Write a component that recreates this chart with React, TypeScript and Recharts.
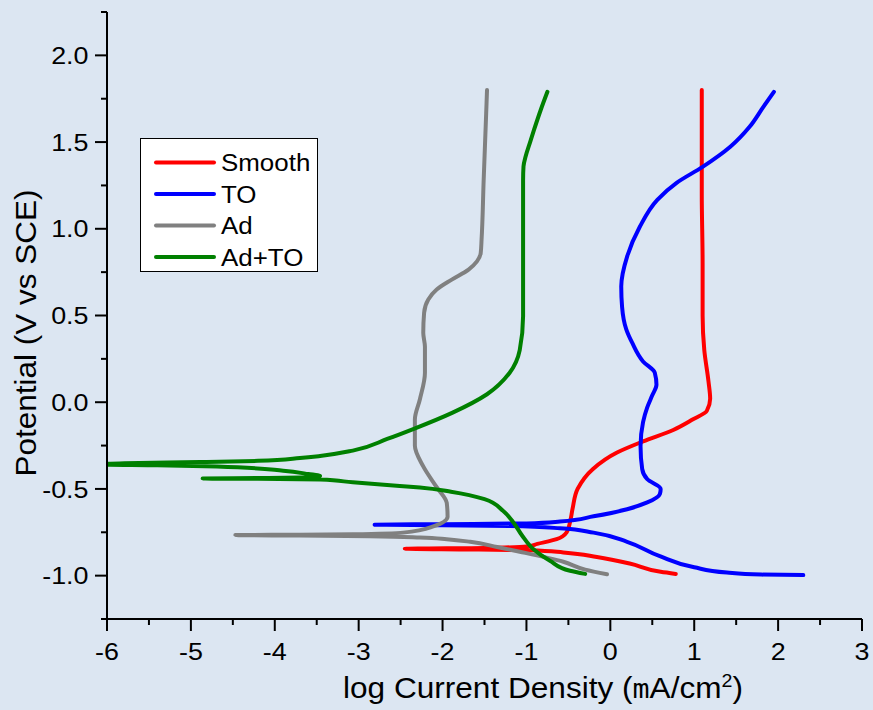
import { LineChart, Line, XAxis, YAxis } from 'recharts'

const SERIES_NAMES = ['Smooth', 'TO', 'Ad', 'Ad+TO']
const SERIES_COLORS = ['#FF0000', '#0000FF', '#808080', '#008000']

// log current density in order of rising potential
const smoothLogI = [0.78, 0.6, 0.23, -0.16, -0.56, -0.96, -1.67, -2.45, -1.5, -1.0, -0.87, -0.64, -0.52, -0.48, -0.45, -0.39, -0.21, 0.08, 0.39, 0.75, 0.98, 1.15, 1.19, 1.17, 1.12, 1.1, 1.1, 1.09, 1.09, 1.09]
const smoothE = [-0.99, -0.978, -0.93, -0.893, -0.866, -0.854, -0.849, -0.845, -0.84, -0.832, -0.817, -0.79, -0.75, -0.69, -0.614, -0.5, -0.386, -0.29, -0.226, -0.16, -0.1, -0.05, 0.02, 0.12, 0.3, 0.5, 0.8, 1.2, 1.5, 1.8]

const toLogI = [2.3, 1.8, 1.39, 1.0, 0.59, 0.2, -0.2, -0.6, -1.2, -2.0, -2.81, -2.0, -1.0, -0.6, -0.2, 0.2, 0.44, 0.59, 0.6, 0.44, 0.38, 0.36, 0.39, 0.44, 0.5, 0.55, 0.53, 0.39, 0.26, 0.19, 0.14, 0.13, 0.2, 0.35, 0.56, 0.79, 1.1, 1.43, 1.66, 1.82, 1.95]
const toE = [-0.997, -0.994, -0.982, -0.952, -0.888, -0.805, -0.752, -0.727, -0.714, -0.709, -0.706, -0.703, -0.699, -0.688, -0.658, -0.617, -0.578, -0.53, -0.5, -0.444, -0.386, -0.254, -0.115, -0.03, 0.04, 0.1, 0.17, 0.235, 0.343, 0.42, 0.55, 0.667, 0.84, 1.01, 1.167, 1.265, 1.357, 1.473, 1.588, 1.7, 1.79]

const adLogI = [-0.04, -0.3, -0.56, -1.08, -1.35, -1.67, -1.95, -2.27, -2.87, -3.7, -4.47, -3.7, -3.07, -2.47, -2.11, -1.94, -1.95, -2.07, -2.23, -2.33, -2.33, -2.27, -2.21, -2.21, -2.23, -2.22, -2.17, -2.07, -1.89, -1.69, -1.59, -1.545, -1.535, -1.51, -1.48, -1.47]
const adE = [-0.992, -0.965, -0.92, -0.862, -0.835, -0.805, -0.79, -0.78, -0.773, -0.769, -0.766, -0.764, -0.761, -0.752, -0.716, -0.66, -0.58, -0.49, -0.37, -0.25, -0.1, 0.017, 0.17, 0.32, 0.4, 0.515, 0.592, 0.65, 0.707, 0.765, 0.812, 0.861, 0.937, 1.28, 1.666, 1.8]

const adToLogI = [-0.3, -0.48, -0.72, -0.92, -1.05, -1.16, -1.28, -1.5, -1.9, -2.27, -2.51, -3.07, -3.46, -4.2, -4.86, -4.2, -3.6, -3.46, -3.6, -3.9, -4.69, -5.4, -6.1, -5.79, -4.89, -4.2, -3.7, -3.46, -3.07, -2.66, -2.35, -1.88, -1.47, -1.2, -1.08, -1.04, -1.04, -1.04, -1.035, -1.01, -0.96, -0.91, -0.83, -0.75]
const adToE = [-0.99, -0.972, -0.914, -0.846, -0.77, -0.69, -0.626, -0.559, -0.516, -0.492, -0.483, -0.462, -0.446, -0.442, -0.44, -0.437, -0.433, -0.425, -0.414, -0.395, -0.37, -0.364, -0.36, -0.352, -0.345, -0.338, -0.322, -0.31, -0.279, -0.212, -0.155, -0.06, 0.046, 0.17, 0.3, 0.495, 0.9, 1.28, 1.36, 1.417, 1.494, 1.57, 1.685, 1.79]

const X_TICKS = [-6, -5.5, -5, -4.5, -4, -3.5, -3, -2.5, -2, -1.5, -1, -0.5, 0, 0.5, 1, 1.5, 2, 2.5, 3]
const Y_TICKS = [-1.25, -1, -0.75, -0.5, -0.25, 0, 0.25, 0.5, 0.75, 1, 1.25, 1.5, 1.75, 2, 2.25]

const LOG_I = [smoothLogI, toLogI, adLogI, adToLogI]
const POTENTIAL = [smoothE, toE, adE, adToE]

const BG = '#DCE6F2'
const FONT = '"Liberation Sans", Arial, sans-serif'

const series = SERIES_NAMES.map((name, k) => ({
  name,
  color: SERIES_COLORS[k],
  points: LOG_I[k].map((i, j) => ({ i, e: POTENTIAL[k][j] })),
}))

function XTick({ x, y, payload }: any) {
  const v = payload.value
  const major = Number.isInteger(v)
  return (
    <g>
      <line x1={x} y1={y} x2={x} y2={y + (major ? 12 : 6)} stroke="#000" strokeWidth={2} />
      {major && (
        <text
          transform={`translate(${x},${y + 41}) scale(1.12,1)`}
          textAnchor="middle"
          fontFamily={FONT}
          fontSize={24}
          fill="#000"
        >
          {v}
        </text>
      )}
    </g>
  )
}

function YTick({ x, y, payload }: any) {
  const v = payload.value
  const major = Math.abs(v * 2 - Math.round(v * 2)) < 1e-6
  return (
    <g>
      <line x1={x} y1={y} x2={x - (major ? 12 : 6)} y2={y} stroke="#000" strokeWidth={2} />
      {major && (
        <text
          transform={`translate(${x - 18.5},${y + 8.6}) scale(1.12,1)`}
          textAnchor="end"
          fontFamily={FONT}
          fontSize={24}
          fill="#000"
        >
          {v.toFixed(1)}
        </text>
      )}
    </g>
  )
}

const xTitle = () => (
  <text x={343} y={698} textLength={400} lengthAdjust="spacingAndGlyphs" fontFamily={FONT} fontSize={29} fill="#000">
    log Current Density (
    <tspan fontFamily='"DejaVu Sans Mono", monospace' fontSize={26}>m</tspan>
    A/cm
    <tspan dy={-11} fontSize={18}>2</tspan>
    <tspan dy={11}>)</tspan>
  </text>
)

const yTitle = () => (
  <text
    transform="translate(36,333) rotate(-90)"
    textAnchor="middle"
    textLength={287}
    lengthAdjust="spacingAndGlyphs"
    fontFamily={FONT}
    fontSize={29}
    fill="#000"
  >
    Potential (V vs SCE)
  </text>
)

function LegendBox() {
  return (
    <div style={{ position: 'absolute', left: 140, top: 138, width: 178, height: 134 }}>
      <svg width={178} height={134}>
        <rect x={0.5} y={0.5} width={177} height={133} fill="#fff" stroke="#000" strokeWidth={1} />
        {series.map((s, k) => {
          const cy = 24.5 + k * 31.5
          return (
            <g key={s.name}>
              <line x1={16} y1={cy} x2={74} y2={cy} stroke={s.color} strokeWidth={4} strokeLinecap="round" />
              <text
                transform={`translate(81,${cy + 8.6}) scale(1.08,1)`}
                fontFamily={FONT}
                fontSize={24}
                fill="#000"
              >
                {s.name}
              </text>
            </g>
          )
        })}
      </svg>
    </div>
  )
}

export default function App() {
  return (
    <div style={{ position: 'absolute', left: 0, top: 0, width: 873, height: 710, background: BG }}>
      <LineChart width={873} height={710} margin={{ top: 12, right: 11, bottom: 0, left: 0 }}>
        <XAxis
          type="number"
          dataKey="i"
          domain={[-6, 3]}
          ticks={X_TICKS}
          interval={0}
          allowDataOverflow
          height={91}
          tickSize={0}
          tickMargin={0}
          tickLine={false}
          axisLine={{ stroke: '#000', strokeWidth: 2 }}
          tick={XTick}
          label={xTitle}
        />
        <YAxis
          type="number"
          domain={[-1.25, 2.25]}
          ticks={Y_TICKS}
          interval={0}
          allowDataOverflow
          width={107}
          tickSize={0}
          tickMargin={0}
          tickLine={false}
          axisLine={{ stroke: '#000', strokeWidth: 2 }}
          tick={YTick}
          label={yTitle}
        />
        {series.map((s) => (
          <Line
            key={s.name}
            data={s.points}
            dataKey="e"
            name={s.name}
            type="monotoneY"
            stroke={s.color}
            strokeWidth={4}
            strokeLinecap="round"
            strokeLinejoin="round"
            dot={false}
            activeDot={false}
            isAnimationActive={false}
          />
        ))}
      </LineChart>
      <LegendBox />
    </div>
  )
}
